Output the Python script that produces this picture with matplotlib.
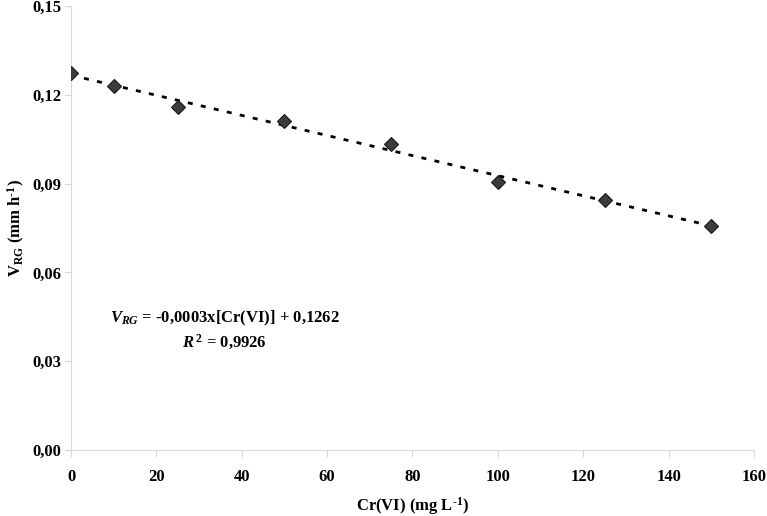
import matplotlib.pyplot as plt
import numpy as np
from matplotlib.ticker import FuncFormatter

cr_vi = [0, 10, 25, 50, 75, 100, 125, 150]
v_rg = [0.1273, 0.1229, 0.1160, 0.1113, 0.1034, 0.0907, 0.0845, 0.0756]

plt.rcParams['font.family'] = ['Liberation Serif', 'DejaVu Serif']
plt.rcParams['font.weight'] = 'bold'
plt.rcParams['mathtext.fontset'] = 'custom'
plt.rcParams['mathtext.rm'] = 'Liberation Serif:bold'
plt.rcParams['mathtext.bf'] = 'Liberation Serif:bold'
plt.rcParams['mathtext.it'] = 'Liberation Serif:bold:italic'
plt.rcParams['mathtext.default'] = 'bf'

fig = plt.figure(figsize=(7.67, 5.16), dpi=100)
ax = fig.add_axes([0.0926, 0.128, 0.8904, 0.86])

slope, intercept = np.polyfit(cr_vi, v_rg, 1)
xs = np.array([min(cr_vi), max(cr_vi)])
ax.plot(xs, slope * xs + intercept, color='black', lw=2, ls=(0, (1.8, 3.0)), zorder=2)
ax.plot(cr_vi, v_rg, ls='none', marker='D', markersize=7,
        markerfacecolor='#3c3c3c', markeredgecolor='#1a1a1a', markeredgewidth=0.8, zorder=3)

ax.set_xlim(0, 160)
ax.set_ylim(0, 0.15)
ax.set_xticks(np.arange(0, 161, 20))
ax.set_yticks(np.arange(0, 0.151, 0.03))
ax.yaxis.set_major_formatter(FuncFormatter(lambda v, p: f'{v:.2f}'.replace('.', ',')))

for s in ['top', 'right']:
    ax.spines[s].set_visible(False)
for s in ['left', 'bottom']:
    ax.spines[s].set_color('#d9d9d9')
ax.tick_params(axis='both', colors='#d9d9d9', labelcolor='black', labelsize=12, length=5)
ax.tick_params(axis='x', pad=9)
ax.tick_params(axis='y', pad=2)
for lab in ax.get_xticklabels() + ax.get_yticklabels():
    lab.set_fontweight('bold')

ax.set_xlabel('Cr(VI) (mg L$^{\u2010 1}$)', fontsize=12, fontweight='bold', labelpad=7)
ax.set_ylabel('V$_{RG}$ (mm h$^{\u2010 1}$)', fontsize=12, fontweight='bold', labelpad=4)

ax.text(36, 0.0446, r'$\it{V}_{\it{RG}}$ = -0,0003x[Cr(VI)] + 0,1262', ha='center', va='center',
        fontsize=12, fontweight='bold')
ax.text(36, 0.0365, r'$\it{R}^{\,2}$ = 0,9926', ha='center', va='center',
        fontsize=12, fontweight='bold')

fig.savefig('out.png', dpi=100)
